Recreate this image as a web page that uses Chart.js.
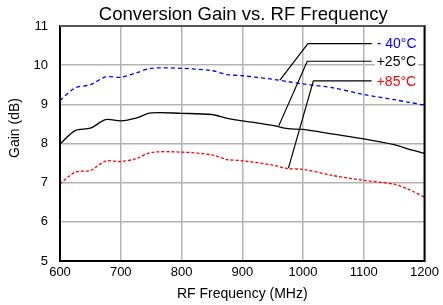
<!DOCTYPE html>
<html>
<head>
<meta charset="utf-8">
<script src="https://cdn.jsdelivr.net/npm/chart.js@4/dist/chart.umd.min.js"></script>
<style>
  html, body { margin: 0; padding: 0; background: #fff; }
  #wrap { width: 443px; height: 305px; }
</style>
</head>
<body>
<div id="wrap"><canvas id="gainChart"></canvas></div>
<script>
// Fréquences RF (MHz)
const freqs = [600, 625, 650, 675, 700, 725, 750, 800, 850, 875, 900, 950, 975, 1000, 1050, 1100, 1150, 1175, 1200];

// Gain de conversion (dB) pour chaque température
const gainMinus40 = [9.10, 9.42, 9.50, 9.70, 9.69, 9.80, 9.92, 9.92, 9.86, 9.76, 9.73, 9.64, 9.58, 9.52, 9.42, 9.25, 9.12, 9.05, 8.98];
const gainPlus25 = [7.99, 8.33, 8.39, 8.61, 8.58, 8.65, 8.78, 8.77, 8.74, 8.64, 8.58, 8.46, 8.38, 8.36, 8.24, 8.12, 7.97, 7.85, 7.75];
const gainPlus85 = [6.97, 7.27, 7.31, 7.55, 7.54, 7.61, 7.77, 7.78, 7.71, 7.59, 7.56, 7.45, 7.36, 7.34, 7.18, 7.06, 6.96, 6.82, 6.63];

const seriesLabels = ['- 40°C', '+25°C', '+85°C'];
const xTicks = [600, 700, 800, 900, 1000, 1100, 1200];
const yTicks = [5, 6, 7, 8, 9, 10, 11];

const chartTitle = 'Conversion Gain vs. RF Frequency';
const yTitle = 'Gain (dB)';

function toPoints(values) {
  return freqs.map((f, i) => ({ x: f, y: values[i] }));
}

// Étiquettes avec traits de rappel (coordonnées en MHz / dB)
const callouts = [
  { text: seriesLabels[0], color: '#0000ff', tip: [962, 9.62], knee: [1008, 10.55], end: [1113, 10.55] },
  { text: seriesLabels[1], color: '#000000', tip: [960, 8.45], knee: [1007, 10.1], end: [1113, 10.1] },
  { text: seriesLabels[2], color: '#ff0000', tip: [976, 7.37], knee: [1017, 9.6], end: [1113, 9.6] }
];

const framePlugin = {
  id: 'frame',
  afterDatasetsDraw(chart) {
    const ctx = chart.ctx;
    const xs = chart.scales.x, ys = chart.scales.y;
    const a = chart.chartArea;
    ctx.save();
    ctx.strokeStyle = '#000';
    ctx.lineWidth = 2;
    ctx.strokeRect(a.left, a.top, a.right - a.left, a.bottom - a.top);
    ctx.strokeStyle = '#555';
    ctx.beginPath();
    ctx.moveTo(a.left, a.top);
    ctx.lineTo(a.right, a.top);
    ctx.stroke();

    // titre principal centré sur la zone de tracé
    ctx.fillStyle = '#000';
    ctx.textAlign = 'center';
    ctx.textBaseline = 'alphabetic';
    ctx.font = '18.5px "Liberation Sans", Arial, sans-serif';
    ctx.fillText(chartTitle, (a.left + a.right) / 2 + 1, 20);

    // titre de l'axe Y
    ctx.font = '14px "Liberation Sans", Arial, sans-serif';
    ctx.save();
    ctx.translate(15, 128);
    ctx.rotate(-Math.PI / 2);
    ctx.textBaseline = 'middle';
    ctx.fillText(yTitle, 0, 0);
    ctx.restore();

    ctx.textAlign = 'left';
    ctx.lineWidth = 1.2;
    ctx.textBaseline = 'middle';
    callouts.forEach(c => {
      const px = v => [xs.getPixelForValue(v[0]), ys.getPixelForValue(v[1])];
      const t = px(c.tip), k = px(c.knee), e = px(c.end);
      ctx.strokeStyle = '#000';
      ctx.beginPath();
      ctx.moveTo(t[0], t[1]);
      ctx.lineTo(k[0], k[1]);
      ctx.lineTo(e[0], e[1]);
      ctx.stroke();
      const w = ctx.measureText(c.text).width;
      ctx.fillStyle = '#fff';
      ctx.fillRect(e[0] + 3, e[1] - 8, w + 4, 16);
      ctx.fillStyle = c.color;
      ctx.fillText(c.text, e[0] + 5, e[1] + 1);
    });
    ctx.restore();
  }
};

Chart.defaults.font.family = '"Liberation Sans", Arial, sans-serif';
Chart.defaults.color = '#000';

const ctx = document.getElementById('gainChart').getContext('2d');
const gainChart = new Chart(ctx, {
  type: 'line',
  data: {
    datasets: [
      { label: seriesLabels[0], data: toPoints(gainMinus40), borderColor: '#0000ff', borderWidth: 1.3, borderDash: [4, 3], pointRadius: 0, tension: 0.3, fill: false },
      { label: seriesLabels[1], data: toPoints(gainPlus25), borderColor: '#000000', borderWidth: 1.3, pointRadius: 0, tension: 0.3, fill: false },
      { label: seriesLabels[2], data: toPoints(gainPlus85), borderColor: '#ff0000', borderWidth: 1.3, borderDash: [3, 2], pointRadius: 0, tension: 0.3, fill: false }
    ]
  },
  options: {
    responsive: true,
    maintainAspectRatio: false,
    animation: false,
    layout: { padding: { left: 0, right: 16, top: 26, bottom: 0 } },
    plugins: {
      legend: { display: false },
      tooltip: { enabled: false },
      title: { display: false }
    },
    scales: {
      x: {
        type: 'linear',
        min: 600,
        max: 1200,
        afterBuildTicks: s => { s.ticks = xTicks.map(v => ({ value: v })); },
        afterFit: s => { s.height = 44; },
        grid: { color: '#b4b4b4', lineWidth: 1.5, drawTicks: false },
        border: { display: false },
        ticks: { font: { size: 13 }, padding: 4, maxRotation: 0, callback: v => String(v) },
        title: { display: true, text: 'RF Frequency (MHz)', font: { size: 14 }, padding: { top: 0, bottom: 2 } }
      },
      y: {
        min: 5,
        max: 11,
        afterBuildTicks: s => { s.ticks = yTicks.map(v => ({ value: v })); },
        afterFit: s => { s.width = 60; },
        grid: { color: '#b4b4b4', lineWidth: 1.5, drawTicks: false },
        border: { display: false },
        ticks: { font: { size: 13 }, padding: 12, callback: v => String(v) }
      }
    }
  },
  plugins: [framePlugin]
});
</script>
</body>
</html>
